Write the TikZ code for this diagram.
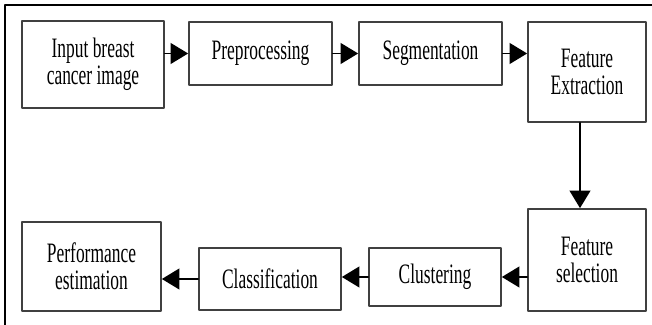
\documentclass[tikz,border=0pt]{standalone}
\usepackage{fontspec}
\setmainfont{Liberation Serif}[FakeStretch=0.62]
\usepackage{xcolor}
\usepackage{tikz}
\usetikzlibrary{arrows.meta}
\tikzset{
	blk/.style={draw=black!75,line width=1.2pt,rectangle,inner sep=0pt,align=center,font=\fontsize{20}{19.2}\selectfont},
	flow/.style={line width=1.4pt,-{Triangle[length=0.44cm,width=0.52cm]}}
}

\begin{document}
\begin{tikzpicture}[line cap=round,line join=round,x=1.0cm,y=1.0cm]
		\clip(0,0) rectangle (16.3,8.125);
		\draw [line width=1.5pt] (0.125,-0.5)-- (0.125,8.0)-- (16.8,8.0);
		% upper row
		\node[blk,minimum width=3.55cm,minimum height=2.175cm] (inp) at (2.325,6.5125) {Input breast\\cancer image};
		\node[blk,minimum width=3.575cm,minimum height=1.575cm] (pre) at (6.5125,6.7875) {Preprocessing};
		\node[blk,minimum width=3.575cm,minimum height=1.575cm] (seg) at (10.7625,6.7875) {Segmentation};
		\node[blk,minimum width=2.95cm,minimum height=2.5cm] (fex) at (14.675,6.325) {Feature\\Extraction};
		% lower row
		\node[blk,minimum width=2.95cm,minimum height=2.55cm] (fsel) at (14.675,1.625) {Feature\\selection};
		\node[blk,minimum width=3.3cm,minimum height=1.45cm] (clu) at (10.875,1.2) {Clustering};
		\node[blk,minimum width=3.55cm,minimum height=1.55cm] (cla) at (6.75,1.15) {Classification};
		\node[blk,minimum width=3.475cm,minimum height=2.225cm] (per) at (2.2875,1.4625) {Performance\\estimation};
		% connectors
		\draw [flow] (inp.east |- pre.west)-- (pre.west);
		\draw [flow] (pre.east)-- (seg.west);
		\draw [flow] (seg.east)-- (seg.east -| fex.west);
		\draw [flow] ([xshift=-0.175cm]fex.south)-- ([xshift=-0.175cm]fsel.north);
		\draw [flow] (fsel.west |- clu.east)-- (clu.east);
		\draw [flow] (clu.west)-- (clu.west -| cla.east);
		\draw [flow] (cla.west)-- (cla.west -| per.east);
	\end{tikzpicture}
\end{document}
